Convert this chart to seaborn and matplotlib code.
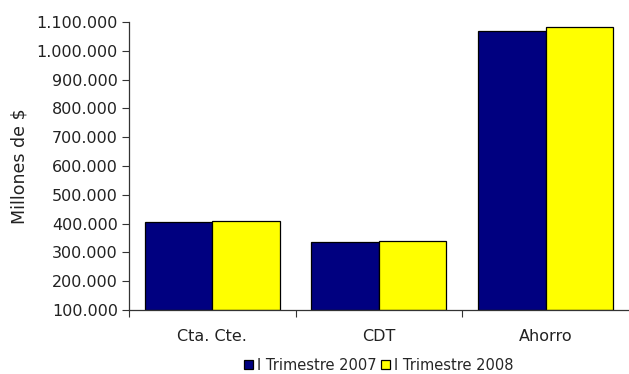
import pandas as pd
import matplotlib.pyplot as plt
import seaborn as sns

# Data (millones de $)
categories = ['Cta. Cte.', 'CDT', 'Ahorro']
series = ['I Trimestre 2007', 'I Trimestre 2008']
values_2007 = [405000, 336000, 1070000]
values_2008 = [410000, 341000, 1084000]
colors = ['#000080', '#FFFF00']
yticks = list(range(100000, 1100001, 100000))

df = pd.DataFrame({
    'categoria': categories * 2,
    'serie': [series[0]] * 3 + [series[1]] * 3,
    'valor': values_2007 + values_2008,
})

sns.set_style('white')
plt.rcParams['font.family'] = ['DejaVu Sans']

fig = plt.figure(figsize=(6.29, 3.74), dpi=100)
ax = fig.add_axes([0.205, 0.171, 0.795, 0.770])

sns.barplot(data=df, x='categoria', y='valor', hue='serie', order=categories,
            hue_order=series, palette=colors, width=0.81, gap=0,
            edgecolor='black', linewidth=0.9, saturation=1, ax=ax)

# bars start at the axis floor (100.000)
for p in ax.patches:
    h = p.get_height()
    p.set_y(100000)
    p.set_height(h - 100000)

ax.set_ylim(100000, 1100000)
ax.set_xlim(-0.5, 2.5)
ax.set_yticks(yticks)
ax.set_yticklabels([f'{v:,}'.replace(',', '.') for v in yticks], fontsize=11.5, color='#222222')

# category ticks at boundaries, labels centered
ax.set_xticks([-0.5, 0.5, 1.5])
ax.set_xticklabels([])
ax.set_xticks([0, 1, 2], minor=True)
ax.set_xticklabels(categories, minor=True, fontsize=11.5, color='#222222')
ax.tick_params(axis='x', which='minor', bottom=False, length=0, pad=14)
ax.tick_params(axis='x', which='major', bottom=True, length=5, width=0.8,
               direction='out', color='#333333')
ax.tick_params(axis='y', left=True, length=5, width=0.8, direction='out',
               color='#333333', pad=3)

ax.set_xlabel('')
ax.set_ylabel('Millones de $', fontsize=12.5, color='#222222', labelpad=6)

for s in ['top', 'right']:
    ax.spines[s].set_visible(False)
for s in ['left', 'bottom']:
    ax.spines[s].set_color('#333333')
    ax.spines[s].set_linewidth(0.9)

handles, labels = ax.get_legend_handles_labels()
ax.legend(handles, labels, loc='upper center', bbox_to_anchor=(0.50, -0.145),
          ncol=2, frameon=False, fontsize=10.5, handlelength=0.6, handleheight=0.6,
          handletextpad=0.3, columnspacing=0.3, borderaxespad=0)

fig.savefig('out.png', dpi=100)
